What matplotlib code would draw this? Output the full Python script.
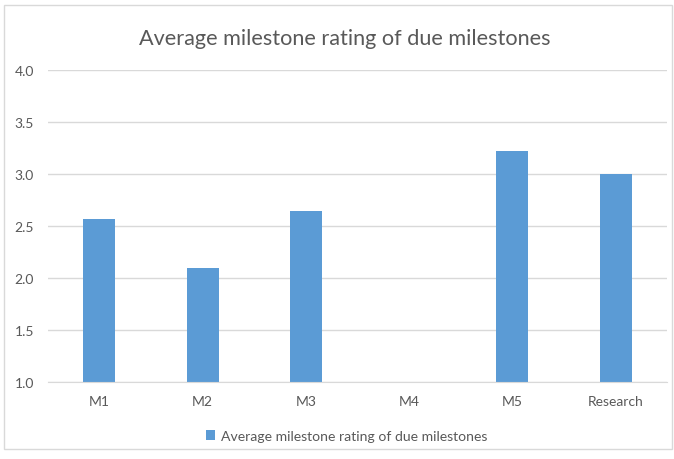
import matplotlib
matplotlib.use("Agg")
import matplotlib.pyplot as plt
import numpy as np
from matplotlib.patches import Rectangle

categories = ["M1", "M2", "M3", "M4", "M5", "Research"]
ratings = [2.57, 2.10, 2.64, np.nan, 3.22, 3.00]
yticks = [1.0, 1.5, 2.0, 2.5, 3.0, 3.5, 4.0]
series_name = "Average milestone rating of due milestones"

plt.rcParams['font.family'] = ['Lato', 'DejaVu Sans']

fig = plt.figure(figsize=(6.74, 4.6), dpi=100)
ax = fig.add_axes([0.071, 0.167, 0.919, 0.679])

x = np.arange(len(categories))
ax.bar(x, ratings, width=0.31, bottom=0, color="#5B9BD5", label=series_name, zorder=2)

ax.set_xlim(-0.5, len(categories) - 0.5)
ax.set_ylim(1.0, 4.0)
ax.set_yticks(yticks)
ax.set_yticklabels(["%.1f" % t for t in yticks])
ax.set_xticks(x)
ax.set_xticklabels(categories)
ax.tick_params(axis="both", length=0, colors="#595959", labelsize=10)
ax.tick_params(axis="y", pad=10)
ax.tick_params(axis="x", pad=9)
ax.grid(axis="y", color="#D9D9D9", linewidth=1, zorder=0)
for side in ["top", "right", "left"]:
    ax.spines[side].set_visible(False)
ax.spines["bottom"].set_color("#D9D9D9")

fig.text(0.512, 0.915, "Average milestone rating of due milestones", ha="center", va="center",
         fontsize=15.6, color="#595959")

fig.legend(loc="center", bbox_to_anchor=(0.514, 0.05), frameon=False, fontsize=10.1,
           labelcolor="#595959", handlelength=0.7, handleheight=0.7, handletextpad=0.4)

# chart border
fig.patches.append(Rectangle((4 / 674, 1 - 450 / 460), 668 / 674, 444 / 460,
                             transform=fig.transFigure, fill=False, edgecolor="#D9D9D9", linewidth=1))

fig.savefig("out.png", dpi=100)
